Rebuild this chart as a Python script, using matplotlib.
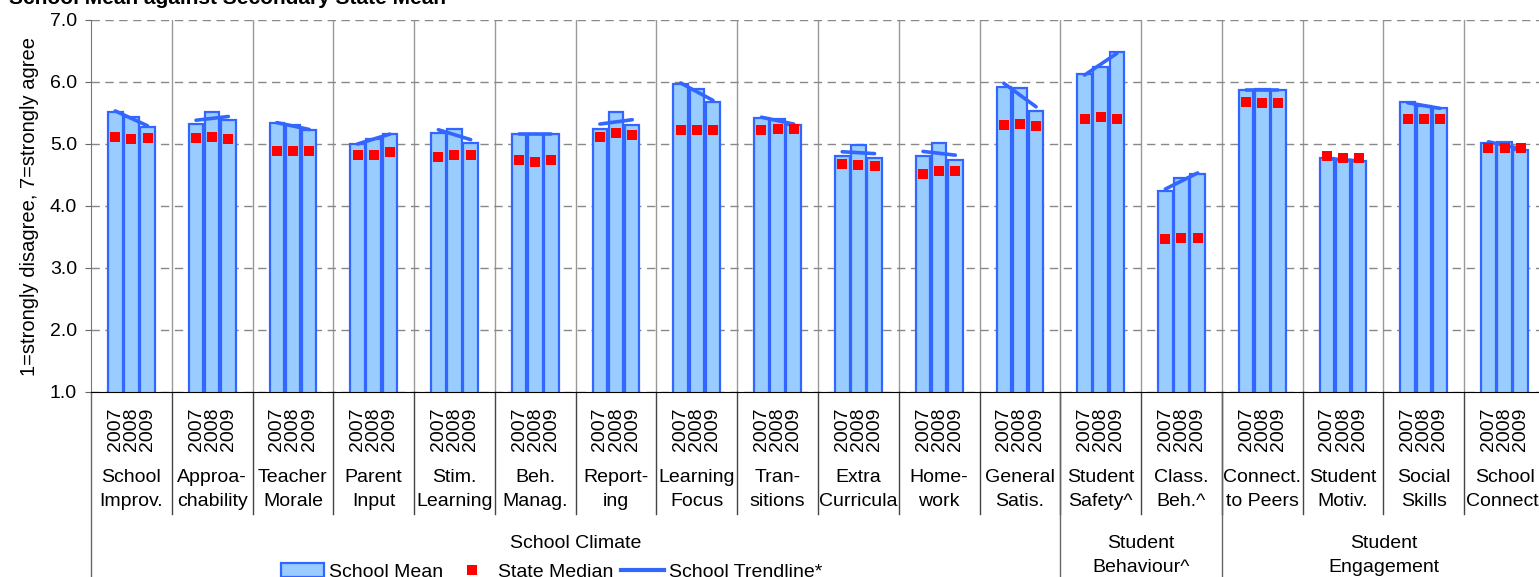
import numpy as np
import matplotlib.pyplot as plt
from matplotlib.patches import Patch
from matplotlib.lines import Line2D

plt.rcParams['font.family'] = ['Liberation Sans', 'DejaVu Sans']

# data
years = ['2007', '2008', '2009']
categories = ['School\nImprov.', 'Approa-\nchability', 'Teacher\nMorale', 'Parent\nInput',
              'Stim.\nLearning', 'Beh.\nManag.', 'Report-\ning', 'Learning\nFocus',
              'Tran-\nsitions', 'Extra\nCurricula', 'Home-\nwork', 'General\nSatis.',
              'Student\nSafety^', 'Class.\nBeh.^', 'Connect.\nto Peers', 'Student\nMotiv.',
              'Social\nSkills', 'School\nConnect.']
super_groups = ['School Climate', 'Student\nBehaviour^', 'Student\nEngagement']
super_sizes = [12, 2, 4]

mean_2007 = [5.52, 5.33, 5.34, 5.00, 5.18, 5.16, 5.24, 5.96, 5.42, 4.81, 4.80, 5.92, 6.13, 4.25, 5.87, 4.77, 5.67, 5.01]
mean_2008 = [5.44, 5.52, 5.30, 5.08, 5.25, 5.16, 5.52, 5.89, 5.40, 4.99, 5.01, 5.91, 6.25, 4.45, 5.88, 4.74, 5.61, 5.03]
mean_2009 = [5.28, 5.39, 5.23, 5.16, 5.02, 5.16, 5.31, 5.68, 5.31, 4.78, 4.74, 5.54, 6.48, 4.51, 5.87, 4.73, 5.58, 4.90]

median_2007 = [5.11, 5.09, 4.88, 4.82, 4.79, 4.75, 5.11, 5.22, 5.22, 4.67, 4.51, 5.30, 5.41, 3.46, 5.67, 4.80, 5.40, 4.93]
median_2008 = [5.08, 5.11, 4.88, 4.83, 4.82, 4.71, 5.17, 5.22, 5.24, 4.66, 4.56, 5.32, 5.43, 3.48, 5.66, 4.77, 5.40, 4.93]
median_2009 = [5.09, 5.08, 4.88, 4.87, 4.82, 4.74, 5.14, 5.22, 5.25, 4.64, 4.56, 5.29, 5.40, 3.48, 5.66, 4.77, 5.41, 4.93]

means = np.array([mean_2007, mean_2008, mean_2009])
medians = np.array([median_2007, median_2008, median_2009])

bar_fill = '#99CCFF'
bar_edge = '#3366FF'

W, H = 1539, 577
fig = plt.figure(figsize=(W / 100, H / 100), dpi=100)
# axes runs past the right edge, like the original screenshot
ax = fig.add_axes([91 / W, (H - 392) / H, (1545 - 91) / W, 372 / H])

n = len(categories)
offsets = np.array([-0.2, 0.0, 0.2])
centers = np.arange(n) + 0.5

for k in range(3):
    ax.bar(centers + offsets[k], means[k], width=0.18, color=bar_fill,
           edgecolor=bar_edge, linewidth=1.6, zorder=2)
    ax.plot(centers + offsets[k], medians[k], 's', color='red', markersize=6.5,
            markeredgewidth=0, zorder=4)

# trendline per group (least squares over the three years)
for i in range(n):
    slope, icpt = np.polyfit([0, 1, 2], means[:, i], 1)
    xs = np.array([0, 2])
    ax.plot(centers[i] + offsets[[0, 2]], icpt + slope * xs, color=bar_edge,
            lw=2.6, solid_capstyle='round', zorder=3)

ax.set_xlim(0, n)
ax.set_ylim(1, 7)
ax.set_yticks(np.arange(1, 7.01, 1))
ax.set_yticklabels([f'{v:.1f}' for v in np.arange(1, 7.01, 1)])
ax.tick_params(axis='y', labelsize=14, length=4, color='#666666', pad=6)
ax.set_xticks([])
ax.yaxis.grid(True, linestyle=(0, (6, 4)), color='#888888', lw=1)
ax.set_axisbelow(True)
for b in range(1, n):
    ax.axvline(b, color='#999999', lw=1, zorder=0)
for s in ['top', 'right']:
    ax.spines[s].set_visible(False)
ax.spines['left'].set_color('#777777')
ax.spines['bottom'].set_color('black')


def ay(p):
    return (392 - p) / 372


xt = ax.get_xaxis_transform()

# year labels and category labels
for i in range(n):
    for k in range(3):
        ax.text(centers[i] + offsets[k], ay(429), years[k], rotation=90, ha='center',
                va='center', fontsize=14, transform=xt)
    line1, line2 = categories[i].split('\n')
    ax.text(centers[i], ay(477), line1, ha='center', va='center', fontsize=14, transform=xt)
    ax.text(centers[i], ay(502), line2, ha='center', va='center', fontsize=14, transform=xt)

# separators below the axis
for b in range(1, n + 1):
    ax.plot([b, b], [ay(392), ay(514)], color='#444444', lw=1, transform=xt, clip_on=False)
start = 0
for name, size in zip(super_groups, super_sizes):
    ax.plot([start, start], [ay(392), ay(580)], color='#666666', lw=1, transform=xt, clip_on=False)
    mid = start + size / 2
    lines = name.split('\n')
    for j, txt in enumerate(lines):
        ax.text(mid, ay(543 + 25 * j), txt, ha='center', va='center', fontsize=14, transform=xt)
    start += size

fig.text(30 / W, 1 - 206 / H, '1=strongly disagree, 7=strongly agree', rotation=90,
         ha='center', va='center', fontsize=14.5)
fig.text(9 / W, 1 - 4 / H, 'School Mean against Secondary State Mean', fontweight='bold',
         fontsize=15, ha='left', va='baseline')

handles = [Patch(facecolor=bar_fill, edgecolor=bar_edge, linewidth=1.6),
           Line2D([], [], marker='s', color='red', linestyle='none', markersize=6.5, markeredgewidth=0),
           Line2D([], [], color=bar_edge, lw=3)]
fig.legend(handles, ['School Mean', 'State Median', 'School Trendline*'], ncol=3,
           loc='center left', bbox_to_anchor=(281 / W, 1 - 572 / H), frameon=False,
           fontsize=14, handlelength=2.2, handleheight=0.7, handletextpad=0.25,
           columnspacing=0.4, borderpad=0, borderaxespad=0)

fig.savefig('out.png', dpi=100)
